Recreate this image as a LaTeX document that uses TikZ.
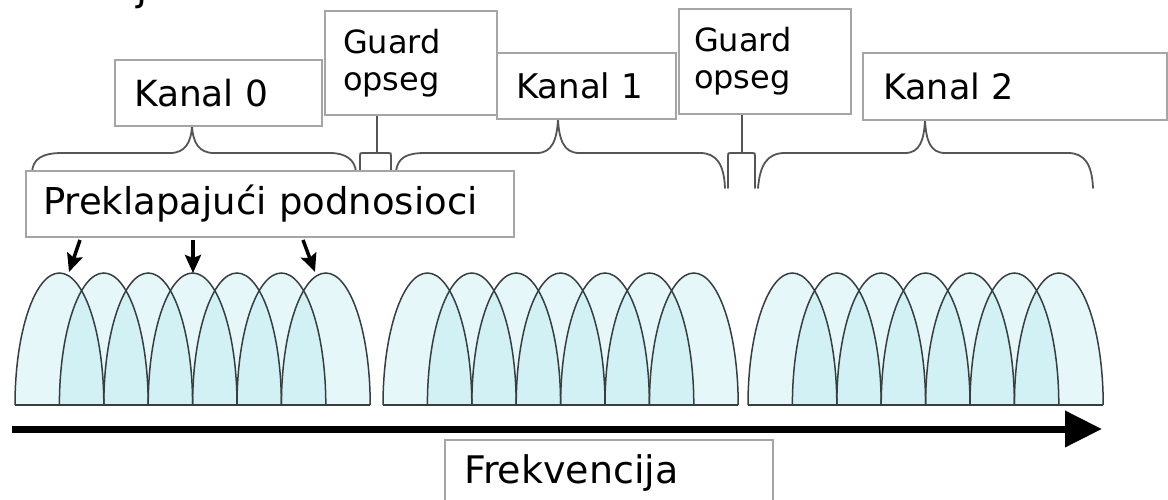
\documentclass[tikz,border=0pt]{standalone}
\usepackage{fontspec}
\setmainfont{DejaVu Sans}
\usetikzlibrary{arrows.meta}
\definecolor{boxgray}{RGB}{165,165,165}
\definecolor{bracegray}{RGB}{85,85,85}
\definecolor{archgray}{RGB}{55,62,64}
\definecolor{lobecyan}{RGB}{140,220,230}
\begin{document}
\begin{tikzpicture}[x=1pt,y=-1pt,
  box/.style={draw=boxgray, line width=2pt, fill=white, inner ysep=0pt, anchor=north west, align=left},
  brace/.style={draw=bracegray, line width=1.8pt, line cap=round, line join=round},
  lobe/.style={fill=lobecyan, fill opacity=0.21, draw=none},
  lobeedge/.style={draw=archgray, line width=1.5pt},
  pointer/.style={draw=black, line width=3.5pt, -{Stealth[length=18pt,width=16pt,inset=3pt]}},
  axis/.style={draw=black, line width=7pt, -{Triangle[length=37pt,width=35pt]}}]
\useasboundingbox (0,0) rectangle (1168,500);
\fill[white] (0,0) rectangle (1168,500);

% cut-off title fragment
\node[anchor=base west, inner sep=0pt, font=\fontsize{40}{40}\selectfont] (cut) at (136,1) {j};

% subcarrier lobes
\foreach \L in {15,383,748}{
  \foreach \k in {0,...,6}{
    \path[lobe] ({\L+\k*44.4},405) arc[start angle=180,end angle=0,x radius=44.4pt,y radius=132pt] -- cycle;
  }
}
\foreach \L in {15,383,748}{
  \foreach \k in {0,...,6}{
    \draw[lobeedge] ({\L+\k*44.4},405) arc[start angle=180,end angle=0,x radius=44.4pt,y radius=132pt];
  }
  \draw[lobeedge] (\L,405) -- ({\L+355.2},405);
}

% braces
\coordinate (b0l) at (32,172); \coordinate (b0r) at (356,172);
\draw[brace] (b0l) .. controls (33,159) and (42,153) .. (62,153) -- (170,153)
  .. controls (185,153) and (191,143) .. (192,126) .. controls (193,143) and (199,153) .. (214,153)
  -- (330,153) .. controls (346,153) and (355,160) .. (b0r);
\coordinate (g1s) at (377,114); \coordinate (g1b) at (377,152);
\draw[brace] (g1s) -- (g1b);
\coordinate (g1l) at (360,172); \coordinate (g1r) at (391,172);
\draw[brace] (g1l) -- (360,156) .. controls (360,153) .. (363,153) -- (388,153) .. controls (391,153) .. (391,156) -- (g1r);
\coordinate (b1l) at (396,171); \coordinate (b1r) at (725,188);
\draw[brace] (b1l) .. controls (398,158) and (406,153) .. (425,153) -- (537,153)
  .. controls (552,153) and (557,140) .. (558,119) .. controls (559,140) and (564,153) .. (579,153)
  -- (700,153) .. controls (717,153) and (724,165) .. (b1r);
\coordinate (g2s) at (742,113); \coordinate (g2b) at (742,152);
\draw[brace] (g2s) -- (g2b);
\coordinate (g2l) at (728,188); \coordinate (g2r) at (755,188);
\draw[brace] (g2l) -- (728,156) .. controls (728,153) .. (731,153) -- (752,153) .. controls (755,153) .. (755,156) -- (g2r);
\coordinate (b2l) at (758,188); \coordinate (b2r) at (1093,188);
\draw[brace] (b2l) .. controls (760,165) and (767,153) .. (785,153) -- (905,153)
  .. controls (920,153) and (924,140) .. (925,120) .. controls (926,140) and (930,153) .. (945,153)
  -- (1068,153) .. controls (1085,153) and (1092,165) .. (b2r);

% label boxes
\node[box, minimum width=207pt, minimum height=66pt, text width=169pt, inner xsep=19pt, font=\fontsize{36}{40}\selectfont] (k0) at (114,59) {Kanal 0};
\node[box, minimum width=172pt, minimum height=104pt, text width=136pt, inner xsep=18pt, font=\fontsize{32}{37}\selectfont] (g1) at (324,10) {Guard\\opseg};
\node[box, minimum width=179pt, minimum height=66pt, text width=141pt, inner xsep=19pt, font=\fontsize{34}{40}\selectfont] (k1) at (496,52) {Kanal 1};
\node[box, minimum width=172pt, minimum height=105pt, text width=142pt, inner xsep=15pt, font=\fontsize{32}{37}\selectfont] (g2) at (678,8) {Guard\\opseg};
\node[box, minimum width=304pt, minimum height=67pt, text width=264pt, inner xsep=20pt, font=\fontsize{35}{40}\selectfont] (k2) at (862,52) {Kanal 2};
\node[box, minimum width=488pt, minimum height=66pt, text width=454pt, inner xsep=17pt, font=\fontsize{37}{40}\selectfont] (pk) at (25,170) {Preklapajući podnosioci};
\node[box, minimum width=328pt, minimum height=66pt, text width=290pt, inner xsep=19pt, font=\fontsize{38}{40}\selectfont] (fr) at (444,439) {Frekvencija};

% pointers to subcarriers
\coordinate (p1a) at (80,240); \coordinate (p1b) at (69,272);
\coordinate (p2a) at (193,240); \coordinate (p2b) at (193,273);
\coordinate (p3a) at (303,240); \coordinate (p3b) at (315,272);
\draw[pointer] (p1a) -- (p1b);
\draw[pointer] (p2a) -- (p2b);
\draw[pointer] (p3a) -- (p3b);

% frequency axis
\coordinate (ax0) at (12,429); \coordinate (ax1) at (1102,429);
\draw[axis] (ax0) -- (ax1);
\end{tikzpicture}
\end{document}
